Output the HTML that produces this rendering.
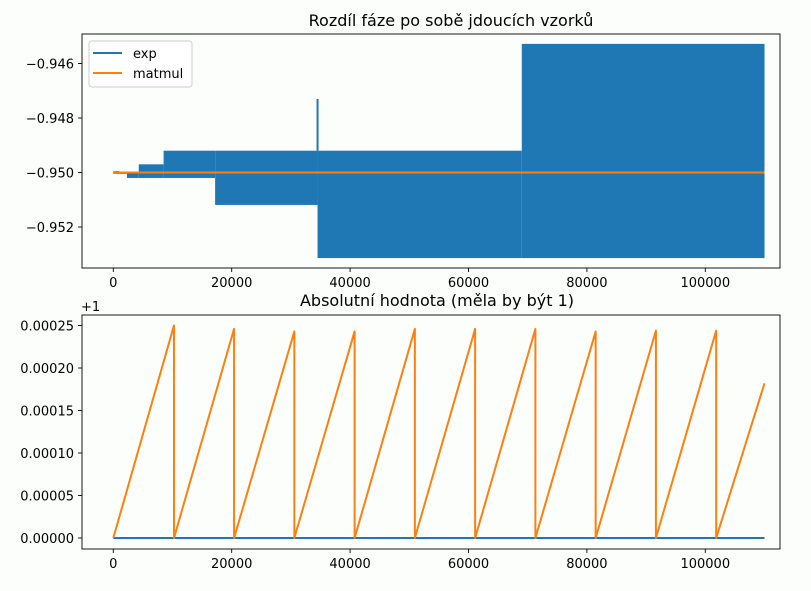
<!DOCTYPE html>
<html><head><meta charset="utf-8"><style>
body{margin:0;background:#fcfefc;}
svg{display:block;font-family:"DejaVu Sans","Liberation Sans",sans-serif;}
</style></head><body>
<svg id="chart" width="811" height="591">
<rect width="811" height="591" fill="#fcfefc"/>
<g id="top"></g>
<g id="bot"></g>
</svg>
<script>
// Top chart data: phase difference envelope segments
const segStart = [0, 1000, 2300, 4300, 8500, 17200, 34500, 69000];
const segEnd   = [1000, 2300, 4300, 8500, 17200, 34500, 69000, 110000];
const segMax   = [-0.94995, -0.9500, -0.9500, -0.9497, -0.9492, -0.9492, -0.9492, -0.94528];
const segMin   = [-0.95005, -0.95005, -0.9502, -0.9502, -0.9502, -0.95119, -0.95314, -0.95314];
const spikeX = [34500];
const spikeY = [-0.9473];
const matmulTopY = [-0.95, -0.95];
const matmulTopX = [0, 110000];
const topYTicks = [-0.946, -0.948, -0.950, -0.952];
const topYLabels = ["−0.946", "−0.948", "−0.950", "−0.952"];
const xTicks = [0, 20000, 40000, 60000, 80000, 100000];
const xLabels = ["0", "20000", "40000", "60000", "80000", "100000"];
// Bottom chart data: sawtooth resets and peaks (offset from 1)
const resetX = [0, 10250, 20400, 30580, 40760, 50940, 61120, 71300, 81480, 91660, 101840];
const peakY  = [0.000250, 0.000246, 0.000243, 0.000243, 0.000246, 0.000246, 0.000246, 0.000243, 0.000244, 0.000244];
const lastX = 110000, lastY = 0.000182;
const botYTicks = [0, 0.00005, 0.00010, 0.00015, 0.00020, 0.00025];
const botYLabels = ["0.00000", "0.00005", "0.00010", "0.00015", "0.00020", "0.00025"];

const NS = "http://www.w3.org/2000/svg";
const L = 82, R = 780;
const xS = v => 113.3 + v * 592 / 100000;
const yTop = v => 172.5 - (v + 0.95) * 27250;
const yBot = v => 538 - v * 850000;
function mk(parent, tag, attrs, text) {
  const e = document.createElementNS(NS, tag);
  for (const k in attrs) e.setAttribute(k, attrs[k]);
  if (text !== undefined) e.textContent = text;
  parent.appendChild(e);
  return e;
}
function axes(g, top, bottom, yt, yl, yf, name) {
  for (let i = 0; i < xTicks.length; i++) {
    const x = xS(xTicks[i]);
    const t = mk(g, "line", {x1: x, x2: x, y1: bottom, y2: bottom + 4, stroke: "#000", "stroke-width": 0.9});
    
    
    const lb = mk(g, "text", {x: x, y: bottom + 19, "font-size": 13, "text-anchor": "middle"}, xLabels[i]);
    
    
  }
  for (let i = 0; i < yt.length; i++) {
    const y = yf(yt[i]);
    const t = mk(g, "line", {x1: L - 4, x2: L, y1: y, y2: y, stroke: "#000", "stroke-width": 0.9});
    
    
    const lb = mk(g, "text", {x: L - 8, y: y + 5, "font-size": 13, "text-anchor": "end"}, yl[i]);
    
    
  }
  const f = mk(g, "rect", {x: L, y: top, width: R - L, height: bottom - top, fill: "none", stroke: "#000", "stroke-width": 0.9});
  
  
}
// TOP
const gt = document.getElementById("top");
const tt = mk(gt, "text", {x: 451, y: 26, "font-size": 16, "text-anchor": "middle"}, "Rozdíl fáze po sobě jdoucích vzorků");


for (let i = 0; i < segStart.length; i++) {
  const r = mk(gt, "rect", {x: xS(segStart[i]), y: yTop(segMax[i]), width: xS(segEnd[i]) - xS(segStart[i]), height: yTop(segMin[i]) - yTop(segMax[i]), fill: "#1f77b4"});
  
  
}
for (let i = 0; i < spikeX.length; i++) {
  const s = mk(gt, "line", {x1: xS(spikeX[i]), x2: xS(spikeX[i]), y1: yTop(spikeY[i]), y2: yTop(-0.9492), stroke: "#1f77b4", "stroke-width": 2});
  
  
}
const mt = mk(gt, "line", {x1: xS(matmulTopX[0]), x2: xS(matmulTopX[1]), y1: yTop(matmulTopY[0]), y2: yTop(matmulTopY[1]), stroke: "#ff7f0e", "stroke-width": 2});


axes(gt, 34, 268, topYTicks, topYLabels, yTop, "top-axes");
// legend
const lg = mk(gt, "g", {});


mk(lg, "rect", {x: 89, y: 41, width: 103, height: 46, rx: 3, fill: "#fff", "fill-opacity": 0.8, stroke: "#ccc"});
const le1 = mk(lg, "line", {x1: 93, x2: 122, y1: 53, y2: 53, stroke: "#1f77b4", "stroke-width": 2});


const lt1 = mk(lg, "text", {x: 133, y: 58, "font-size": 13}, "exp");


const le2 = mk(lg, "line", {x1: 93, x2: 122, y1: 73, y2: 73, stroke: "#ff7f0e", "stroke-width": 2});


const lt2 = mk(lg, "text", {x: 133, y: 78, "font-size": 13}, "matmul");


// BOTTOM
const gb = document.getElementById("bot");
const bt = mk(gb, "text", {x: 437, y: 306, "font-size": 16, "text-anchor": "middle"}, "Absolutní hodnota (měla by být 1)");


const off = mk(gb, "text", {x: 81, y: 311, "font-size": 13}, "+1");


const bl = mk(gb, "line", {x1: xS(0), x2: xS(110000), y1: yBot(0), y2: yBot(0), stroke: "#1f77b4", "stroke-width": 2});


let pts = [];
for (let i = 0; i < peakY.length; i++) {
  pts.push(xS(resetX[i]) + "," + yBot(0));
  pts.push(xS(resetX[i + 1]) + "," + yBot(peakY[i]));
}
pts.push(xS(resetX[resetX.length - 1]) + "," + yBot(peakY[peakY.length - 1]));
pts.push(xS(resetX[resetX.length - 1]) + "," + yBot(0));
pts.push(xS(lastX) + "," + yBot(lastY));
const saw = mk(gb, "polyline", {points: pts.join(" "), fill: "none", stroke: "#ff7f0e", "stroke-width": 2, "stroke-linejoin": "round"});


axes(gb, 315, 549, botYTicks, botYLabels, yBot, "bottom-axes");
</script>
</body></html>
